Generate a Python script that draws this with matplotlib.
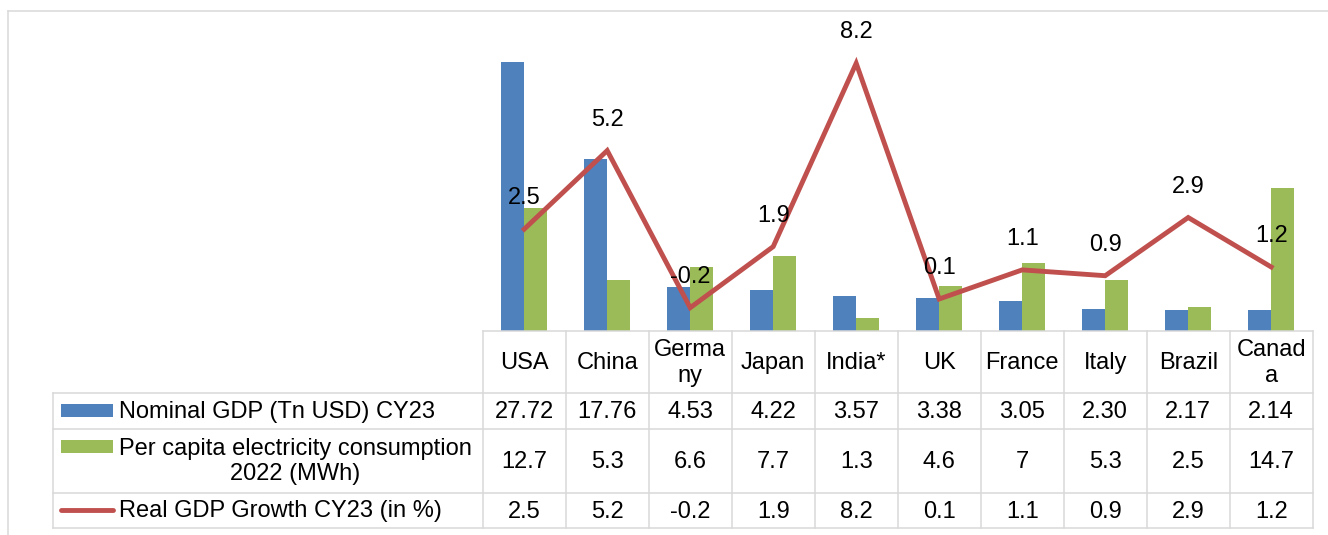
import matplotlib
matplotlib.use("Agg")
import matplotlib.pyplot as plt
from matplotlib.patches import Rectangle
from matplotlib.lines import Line2D

plt.rcParams['font.family'] = ['Liberation Sans', 'DejaVu Sans']

# ---------------- data ----------------
country_labels = ["USA", "China", "Germa\nny", "Japan", "India*", "UK",
                  "France", "Italy", "Brazil", "Canad\na"]
nominal_gdp = [27.72, 17.76, 4.53, 4.22, 3.57, 3.38, 3.05, 2.30, 2.17, 2.14]
elec_per_capita = [12.7, 5.3, 6.6, 7.7, 1.3, 4.6, 7, 5.3, 2.5, 14.7]
gdp_growth = [2.5, 5.2, -0.2, 1.9, 8.2, 0.1, 1.1, 0.9, 2.9, 1.2]
series_names = ["Nominal GDP (Tn USD) CY23",
                "Per capita electricity consumption\n2022 (MWh)",
                "Real GDP Growth CY23 (in %)"]
nominal_txt = [f"{v:.2f}" for v in nominal_gdp]
elec_txt = [f"{v:g}" for v in elec_per_capita]
growth_txt = [f"{v:g}" for v in gdp_growth]

BLUE = "#4F81BD"
GREEN = "#9BBB59"
RED = "#C0504D"
GRID = "#D9D9D9"
FS = 17

W, H = 1328, 535
fig = plt.figure(figsize=(W / 100, H / 100), dpi=100)

# overlay in pixel coordinates for table + frame
ov = fig.add_axes([0, 0, 1, 1])
ov.set_xlim(0, W)
ov.set_ylim(H, 0)
ov.axis("off")
ov.patch.set_alpha(0)

# plot area geometry (pixels)
PL, PR, PT, PB = 482.7, 1312.7, 40, 331
n = len(country_labels)
colw = (PR - PL) / n

ax = fig.add_axes([PL / W, 1 - PB / H, (PR - PL) / W, (PB - PT) / H])
ax.patch.set_alpha(0)
x = list(range(n))
bw = 0.277
ax.bar([i - bw / 2 for i in x], nominal_gdp, width=bw, color=BLUE, zorder=2)
ax.bar([i + bw / 2 for i in x], elec_per_capita, width=bw, color=GREEN, zorder=2)
ax.set_xlim(-0.5, n - 0.5)
ax.set_ylim(0, 30)
for s in ["top", "left", "right"]:
    ax.spines[s].set_visible(False)
ax.spines["bottom"].set_color(GRID)
ax.spines["bottom"].set_linewidth(1.1)
ax.set_xticks([])
ax.set_yticks([])

ax2 = ax.twinx()
ax2.plot(x, gdp_growth, color=RED, lw=3.5, solid_joinstyle="miter", zorder=3)
ax2.set_ylim(-1, 9)
ax2.axis("off")
for i, v in enumerate(gdp_growth):
    ax2.annotate(growth_txt[i], (i, v), xytext=(0, 31), textcoords="offset pixels",
                 ha="center", va="center", fontsize=FS, color="black")

# outer frame
ov.add_line(Line2D([8, 8], [11, H], color=GRID, lw=1.1))
ov.add_line(Line2D([8, W], [11, 11], color=GRID, lw=1.1))

# table grid
TL = 53
rows_y = [393, 428.5, 493, 528]
for y in rows_y:
    ov.add_line(Line2D([TL, PR], [y, y], color=GRID, lw=1.1))
ov.add_line(Line2D([TL, TL], [rows_y[0], rows_y[-1]], color=GRID, lw=1.1))
for k in range(n + 1):
    xx = PL + k * colw
    ov.add_line(Line2D([xx, xx], [PB, rows_y[-1]], color=GRID, lw=1.1))

# header + values
row_centers = [(PB + rows_y[0]) / 2, (rows_y[0] + rows_y[1]) / 2,
               (rows_y[1] + rows_y[2]) / 2, (rows_y[2] + rows_y[3]) / 2]
for i in range(n):
    cx = PL + (i + 0.5) * colw
    ov.text(cx, row_centers[0] + 1, country_labels[i], ha="center", va="center",
            fontsize=FS, linespacing=1.2)
    ov.text(cx, row_centers[1] + 1, nominal_txt[i], ha="center", va="center", fontsize=FS)
    ov.text(cx, row_centers[2] + 1, elec_txt[i], ha="center", va="center", fontsize=FS)
    ov.text(cx, row_centers[3] + 1, growth_txt[i], ha="center", va="center", fontsize=FS)

# legend keys
ov.add_patch(Rectangle((61, 404), 52, 13, color=BLUE, lw=0))
ov.add_patch(Rectangle((61, 440), 52, 13, color=GREEN, lw=0))
ov.add_line(Line2D([61, 113], [509.5, 509.5], color=RED, lw=3.5, solid_capstyle="round"))
ov.text(119, row_centers[1] + 1, series_names[0], ha="left", va="center", fontsize=FS)
ov.text(119, row_centers[2] + 1, series_names[1], ha="left", va="center", fontsize=FS,
        multialignment="center", linespacing=1.2)
ov.text(119, row_centers[3] + 1, series_names[2], ha="left", va="center", fontsize=FS)

fig.savefig("out.png", dpi=100)
